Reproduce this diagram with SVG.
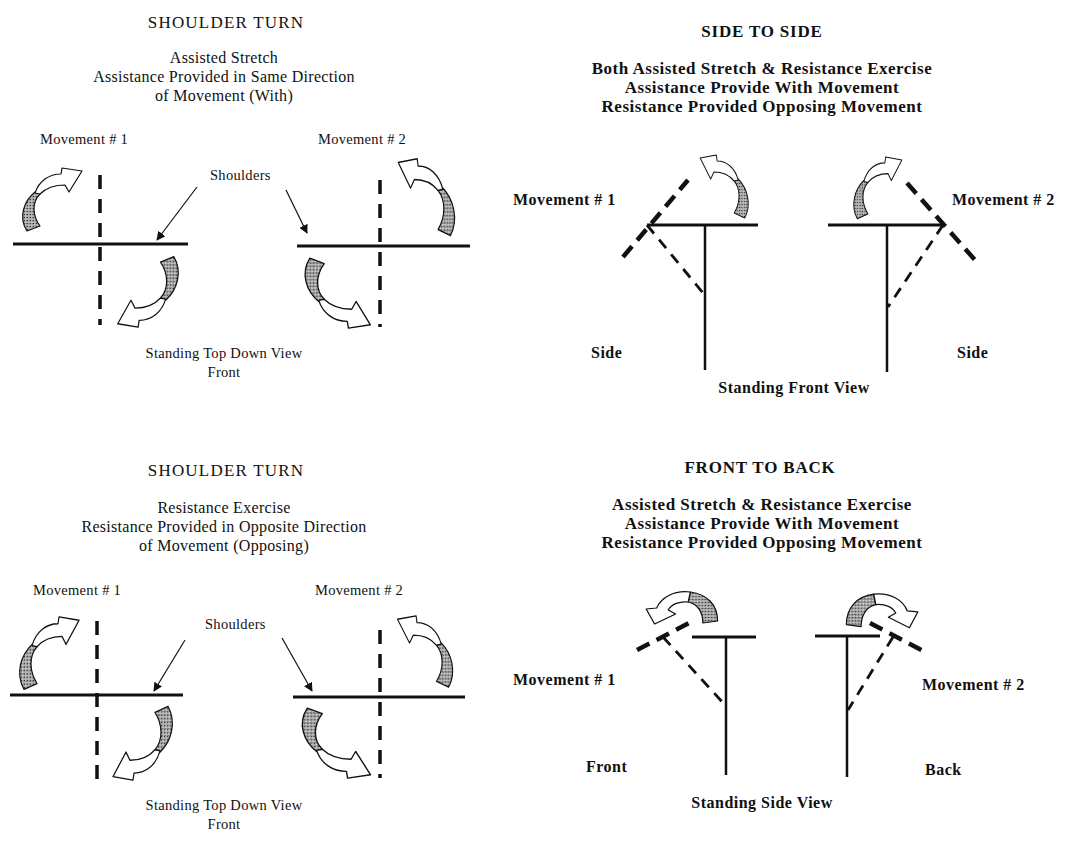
<svg xmlns="http://www.w3.org/2000/svg" xmlns:xlink="http://www.w3.org/1999/xlink" width="1070" height="841" viewBox="0 0 1070 841">
<style>
  text { font-family: "Liberation Serif", "DejaVu Serif", serif; fill: #111; }
  .title { font-size: 17px; letter-spacing: 1.2px; }
  .body { font-size: 16px; letter-spacing: 0.3px; }
  .lab { font-size: 14.5px; letter-spacing: 0.3px; }
  .btitle { font-size: 17px; font-weight: bold; letter-spacing: 0.8px; }
  .bbody { font-size: 17px; font-weight: bold; letter-spacing: 0.5px; }
  .blab { font-size: 16px; font-weight: bold; letter-spacing: 0.5px; }
  .mid { text-anchor: middle; }
  .solid { stroke: #111; stroke-width: 3; fill: none; }
  .stem { stroke: #111; stroke-width: 2.5; fill: none; }
  .vdash { stroke: #111; stroke-width: 3.5; fill: none; stroke-dasharray: 14 10; }
  .thick { stroke: #111; stroke-width: 4.5; fill: none; stroke-dasharray: 14 8; }
  .thin { stroke: #111; stroke-width: 2.8; fill: none; stroke-dasharray: 11 8; }
  .ptr { stroke: #111; stroke-width: 1.2; fill: none; marker-end: url(#tip); }
  .shade { fill: url(#stip); stroke: #111; stroke-width: 1.2; stroke-linejoin: round; }
  .band { fill: #fff; stroke: #111; stroke-width: 1.2; stroke-linejoin: round; }
</style>
<defs>
  <pattern id="stip" width="3" height="3" patternUnits="userSpaceOnUse">
    <rect width="3" height="3" fill="#a9a9a9"/>
    <rect x="0" y="0" width="1" height="1" fill="#333"/>
    <rect x="1.5" y="1.5" width="1" height="1" fill="#e8e8e8"/>
    <rect x="2" y="0.5" width="0.8" height="0.8" fill="#555"/>
  </pattern>
  <marker id="tip" viewBox="0 0 10 10" refX="9" refY="5" markerWidth="9" markerHeight="9" markerUnits="userSpaceOnUse" orient="auto">
    <path d="M0,0 L10,5 L0,10 Z" fill="#111"/>
  </marker>
  <g id="arrowA">
    <path class="shade" d="M17,23 C6,32 0,48 9,62 L22,57 C14,46 14,33 22,25 Z"/>
    <path class="band" d="M17,24 C21,12 31,5 43,5 L44,-1 L64,2 L51,23 L47,16 C35,16 28,19 22,25 Z"/>
  </g>
  <g id="arrowB">
    <path class="shade" d="M72,31 C72,15 62,4 46,2 L44,12 C53,14 58,22 58,33 Z"/>
    <path class="band" d="M46,2 C30,0 18,8 14,18 L4,19 L12,34 L32,24 L25,20 C28,14 36,11 44,12 Z"/>
  </g>
</defs>
<rect width="1070" height="841" fill="#fff"/>

<g id="panel-top-left">
  <text class="title mid" x="226" y="28">SHOULDER TURN</text>
  <text class="body mid" x="224" y="63">Assisted Stretch</text>
  <text class="body mid" x="224" y="82">Assistance Provided in Same Direction</text>
  <text class="body mid" x="224" y="101">of Movement (With)</text>
  <text class="lab" x="40" y="144">Movement # 1</text>
  <text class="lab" x="318" y="144">Movement # 2</text>
  <text class="lab" x="210" y="180">Shoulders</text>
  <text class="lab mid" x="224" y="358">Standing Top Down View</text>
  <text class="lab mid" x="224" y="377">Front</text>
  <line class="solid" x1="13" y1="244" x2="188" y2="244"/>
  <line class="vdash" x1="100" y1="175" x2="100" y2="325"/>
  <line class="solid" x1="297" y1="246" x2="470" y2="246"/>
  <line class="vdash" x1="380" y1="180" x2="380" y2="327"/>
  <use xlink:href="#arrowA" transform="translate(18,169)"/>
  <use xlink:href="#arrowA" transform="translate(183,326) rotate(180) scale(1.02,1.12)"/>
  <use xlink:href="#arrowA" transform="translate(459,160) scale(-0.95,1.22)"/>
  <use xlink:href="#arrowA" transform="translate(300,327) scale(1.1,-1.11)"/>
</g>

<g id="panel-bottom-left">
  <text class="title mid" x="226" y="476">SHOULDER TURN</text>
  <text class="body mid" x="224" y="513">Resistance Exercise</text>
  <text class="body mid" x="224" y="532">Resistance Provided in Opposite Direction</text>
  <text class="body mid" x="224" y="551">of Movement (Opposing)</text>
  <text class="lab" x="33" y="595">Movement # 1</text>
  <text class="lab" x="315" y="595">Movement # 2</text>
  <text class="lab" x="205" y="629">Shoulders</text>
  <text class="lab mid" x="224" y="810">Standing Top Down View</text>
  <text class="lab mid" x="224" y="829">Front</text>
  <line class="solid" x1="10" y1="695" x2="183" y2="695"/>
  <line class="vdash" x1="97" y1="621" x2="97" y2="779"/>
  <line class="solid" x1="293" y1="697" x2="465" y2="697"/>
  <line class="vdash" x1="380" y1="630" x2="380" y2="778"/>
  <use xlink:href="#arrowA" transform="translate(15,618) scale(1,1.15)"/>
  <use xlink:href="#arrowA" transform="translate(177,779) rotate(180) scale(1,1.17)"/>
  <use xlink:href="#arrowA" transform="translate(457,617) scale(-0.93,1.13)"/>
  <use xlink:href="#arrowA" transform="translate(297,777) scale(1.15,-1.11)"/>
</g>

<g id="panel-top-right">
  <text class="btitle mid" x="762" y="37">SIDE TO SIDE</text>
  <text class="bbody mid" x="762" y="74">Both Assisted Stretch &amp; Resistance Exercise</text>
  <text class="bbody mid" x="762" y="93">Assistance Provide With Movement</text>
  <text class="bbody mid" x="762" y="112">Resistance Provided Opposing Movement</text>
  <text class="blab" x="513" y="205">Movement # 1</text>
  <text class="blab" x="952" y="205">Movement # 2</text>
  <text class="blab" x="591" y="358">Side</text>
  <text class="blab" x="957" y="358">Side</text>
  <text class="blab mid" x="794" y="393">Standing Front View</text>
  <line class="solid" x1="647" y1="225" x2="758" y2="225"/>
  <line class="stem" x1="705" y1="225" x2="705" y2="370"/>
  <line class="thick" x1="623" y1="257" x2="688" y2="180"/>
  <line class="thin" x1="647" y1="225" x2="703" y2="293"/>
  <use xlink:href="#arrowA" transform="translate(752,156) scale(-0.81,1)"/>
  <line class="solid" x1="828" y1="225" x2="945" y2="225"/>
  <line class="stem" x1="887" y1="225" x2="887" y2="372"/>
  <line class="thick" x1="907" y1="183" x2="975" y2="260"/>
  <line class="thin" x1="943" y1="225" x2="888" y2="307"/>
  <use xlink:href="#arrowA" transform="translate(850,158) scale(0.81,0.98)"/>
</g>

<g id="panel-bottom-right">
  <text class="btitle mid" x="760" y="473">FRONT TO BACK</text>
  <text class="bbody mid" x="762" y="510">Assisted Stretch &amp; Resistance Exercise</text>
  <text class="bbody mid" x="762" y="529">Assistance Provide With Movement</text>
  <text class="bbody mid" x="762" y="548">Resistance Provided Opposing Movement</text>
  <text class="blab" x="513" y="685">Movement # 1</text>
  <text class="blab" x="922" y="690">Movement # 2</text>
  <text class="blab" x="586" y="772">Front</text>
  <text class="blab" x="925" y="775">Back</text>
  <text class="blab mid" x="762" y="808">Standing Side View</text>
  <line class="solid" x1="692" y1="637" x2="756" y2="637"/>
  <line class="stem" x1="726" y1="637" x2="726" y2="775"/>
  <line class="thick" x1="637" y1="650" x2="695" y2="620"/>
  <line class="thin" x1="663" y1="637" x2="725" y2="705"/>
  <use xlink:href="#arrowB" transform="translate(642,590) scale(1.05,1)"/>
  <line class="solid" x1="815" y1="636" x2="880" y2="636"/>
  <line class="stem" x1="847" y1="636" x2="847" y2="777"/>
  <line class="thick" x1="870" y1="623" x2="927" y2="653"/>
  <line class="thin" x1="893" y1="637" x2="848" y2="710"/>
  <use xlink:href="#arrowB" transform="translate(922,592) scale(-1.05,1.05)"/>
</g>

<g id="connectors">
  <line class="ptr" x1="197" y1="187" x2="157" y2="240"/>
  <line class="ptr" x1="286" y1="190" x2="307" y2="233"/>
  <line class="ptr" x1="185" y1="640" x2="154" y2="691"/>
  <line class="ptr" x1="282" y1="638" x2="312" y2="691"/>
</g>
</svg>
